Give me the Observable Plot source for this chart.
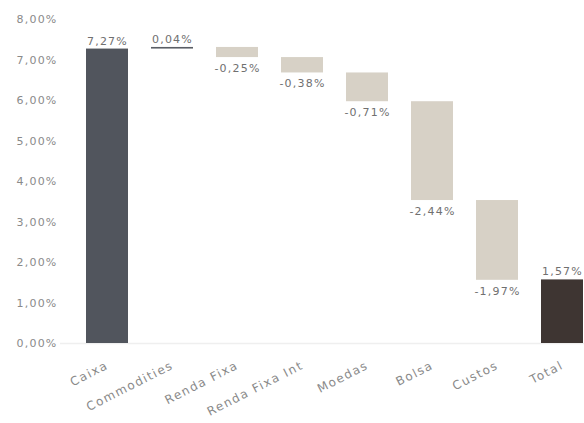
<!DOCTYPE html>
<html>
<head>
<meta charset="utf-8">
<script src="https://cdn.jsdelivr.net/npm/d3@7"></script>
<script src="https://cdn.jsdelivr.net/npm/@observablehq/plot@0.6"></script>
<style>
html, body { margin: 0; padding: 0; background: #fff; overflow: hidden; width: 584px; height: 423px; }
#chart svg { max-width: none !important; }
#chart svg text { letter-spacing: 1.2px; }
#chart svg g[aria-label="x-axis tick label"] text { letter-spacing: 1.5px; }
</style>
</head>
<body>
<div id="chart"></div>
<script>
const categories = ["Caixa", "Commodities", "Renda Fixa", "Renda Fixa Int", "Moedas", "Bolsa", "Custos", "Total"];
const values = [7.27, 0.04, -0.25, -0.38, -0.71, -2.44, -1.97, 1.57];
const kinds = ["start", "delta", "delta", "delta", "delta", "delta", "delta", "total"];
const yTicks = [0, 1, 2, 3, 4, 5, 6, 7, 8];

const colors = { start: "#51555d", pos: "#5a5e65", neg: "#d7d1c6", total: "#3e3532" };

let run = 0;
const rows = categories.map((c, i) => {
  const v = values[i];
  let y1, y2;
  if (kinds[i] === "start" || kinds[i] === "total") { y1 = 0; y2 = v; run = kinds[i] === "start" ? v : run; }
  else { y1 = run; y2 = run + v; run = y2; }
  const kind = kinds[i] === "delta" ? (v >= 0 ? "pos" : "neg") : kinds[i];
  return { cat: c, v, y1, y2, kind, top: Math.max(y1, y2), bottom: Math.min(y1, y2) };
});

const fmt = (v) => v.toFixed(2).replace(".", ",") + "%";
const font = "'DejaVu Sans', sans-serif";

const chart = Plot.plot({
  width: 612,
  height: 423,
  marginLeft: 60,
  marginRight: 2,
  marginTop: 19,
  marginBottom: 80,
  style: { fontFamily: font, fontSize: "11px", color: "#8a8a8a", background: "#fff", maxWidth: "none" },
  x: { domain: categories, padding: 0.35, label: null },
  y: { domain: [0, 8], label: null },
  marks: [
    Plot.ruleY([0], { stroke: "#efefef", strokeWidth: 1.5 }),
    Plot.barY(rows, { x: "cat", y1: "y1", y2: "y2", fill: (d) => colors[d.kind] }),
    Plot.text(rows.filter(d => d.kind !== "neg"), { x: "cat", y: "top", text: (d) => fmt(d.v), dy: -8, fill: "#707070", fontSize: 11 }),
    Plot.text(rows.filter(d => d.kind === "neg"), { x: "cat", y: "bottom", text: (d) => fmt(d.v), dy: 11, fill: "#707070", fontSize: 11 }),
    Plot.axisY({ ticks: yTicks, tickFormat: fmt, tickSize: 0, tickPadding: 3, fill: "#8a8a8a", label: null }),
    Plot.axisX({ tickRotate: -27, tickSize: 0, tickPadding: 21, fill: "#8a8a8a", fontSize: 12, label: null })
  ]
});
document.getElementById("chart").appendChild(chart);
</script>
</body>
</html>
